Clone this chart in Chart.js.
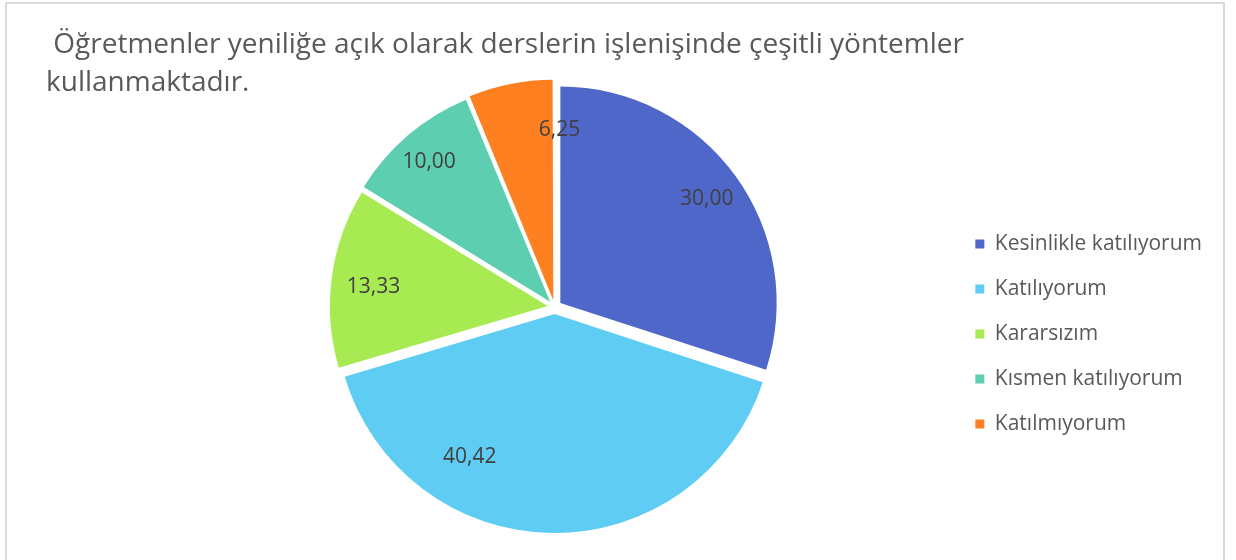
<!DOCTYPE html>
<html>
<head>
<meta charset="utf-8">
<script src="https://cdn.jsdelivr.net/npm/chart.js@4.4.0/dist/chart.umd.min.js"></script>
<style>
    html, body { margin: 0; padding: 0; background: #fff; }
    #wrap { position: relative; width: 1236px; height: 560px; overflow: hidden; }
    #frame {
        position: absolute; left: 5px; top: 2px; width: 1220px; height: 600px;
        border: 2px solid #d9d9d9; box-sizing: border-box;
    }
    #title {
        position: absolute; left: 46px; top: 23px;
        font-family: 'Open Sans', sans-serif; font-size: 28px; line-height: 38px;
        color: #595959; white-space: pre;
    }
    canvas { position: absolute; left: 0; top: 0; }
</style>
</head>
<body>
<div id="wrap">
    <div id="frame"></div>
    <canvas id="pieChart" width="1236" height="560"></canvas>
    <div id="title"> Öğretmenler yeniliğe açık olarak derslerin işlenişinde çeşitli yöntemler
kullanmaktadır.</div>
</div>
<script>
const categories = ['Kesinlikle katılıyorum', 'Katılıyorum', 'Kararsızım', 'Kısmen katılıyorum', 'Katılmıyorum'];
const percentages = [30.00, 40.42, 13.33, 10.00, 6.25];
const sliceColors = ['#4E67C8', '#5ECCF3', '#A7EA52', '#5DCEAF', '#FF8021'];

// where Excel put each value label: share of the slice angle, share of the radius
const labelAngleShare = [0.5, 0.7, 0.49, 0.5, 1.07];
const labelRadiusShare = [0.87, 0.79, 0.845, 0.895, 0.83];

const valueLabels = {
    id: 'valueLabels',
    afterDatasetsDraw(chart) {
        const ctx = chart.ctx;
        const meta = chart.getDatasetMeta(0);
        ctx.save();
        ctx.font = '21px "Open Sans", sans-serif';
        ctx.fillStyle = '#404040';
        ctx.textAlign = 'center';
        ctx.textBaseline = 'alphabetic';
        meta.data.forEach((arc, i) => {
            const p = arc.getProps(['x', 'y', 'startAngle', 'endAngle', 'outerRadius'], true);
            const a = p.startAngle + labelAngleShare[i] * (p.endAngle - p.startAngle);
            const r = labelRadiusShare[i] * p.outerRadius;
            const text = percentages[i].toFixed(2).replace('.', ',');
            ctx.fillText(text, p.x + Math.cos(a) * r, p.y + Math.sin(a) * r + 8);
        });
        ctx.restore();
    }
};

const ctx = document.getElementById('pieChart').getContext('2d');
const pieChart = new Chart(ctx, {
    type: 'pie',
    data: {
        labels: categories,
        datasets: [{
            data: percentages,
            backgroundColor: sliceColors,
            borderWidth: 0,
            offset: 28,
            hoverOffset: 0
        }]
    },
    options: {
        responsive: false,
        animation: false,
        radius: 216,
        layout: {
            padding: { left: 158, right: 24, top: 54, bottom: 0 }
        },
        plugins: {
            legend: {
                position: 'right',
                title: {
                    display: true,
                    text: '',
                    font: { size: 1 },
                    padding: { top: 53, bottom: 0 }
                },
                labels: {
                    boxWidth: 9,
                    boxHeight: 9,
                    padding: 24,
                    color: '#595959',
                    font: { family: "'Open Sans', sans-serif", size: 21 }
                }
            },
            tooltip: { enabled: false }
        }
    },
    plugins: [valueLabels]
});
</script>
</body>
</html>
